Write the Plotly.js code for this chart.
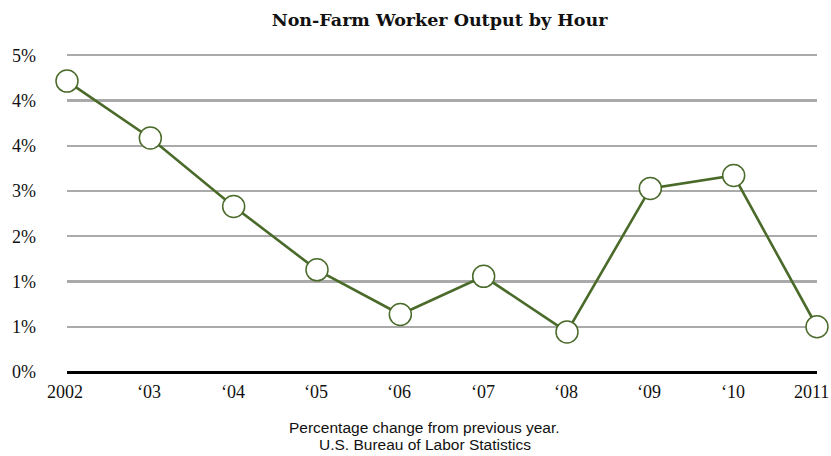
<!DOCTYPE html>
<html>
<head>
<meta charset="utf-8">
<script src="https://cdn.plot.ly/plotly-3.0.1.min.js"></script>
<style>html,body{margin:0;padding:0;background:#fff;}#chart{width:831px;height:456px;}</style>
</head>
<body>
<div id="chart"></div>
<script>
const years = [2002, 2003, 2004, 2005, 2006, 2007, 2008, 2009, 2010, 2011];
const yearLabels = ["2002", "\u201803", "\u201804", "\u201805", "\u201806", "\u201807", "\u201808", "\u201809", "\u201810", "2011"];
const output = [4.50, 3.62, 2.56, 1.58, 0.89, 1.48, 0.62, 2.84, 3.04, 0.70];
const yTickVals = [0, 0.7, 1.4, 2.1, 2.8, 3.5, 4.2, 4.9];
const yTickText = ["0%", "1%", "1%", "2%", "3%", "4%", "4%", "5%"];
const titleText = "Non-Farm Worker Output by Hour";
const noteLines = ["Percentage change from previous year.", "U.S. Bureau of Labor Statistics"];

const serif = "Liberation Serif, serif";
const titleSerif = "DejaVu Serif, serif";
const sans = "Liberation Sans, Arial, sans-serif";
const green = "#4a6a2a";

const trace = {
  x: years,
  y: output,
  type: "scatter",
  mode: "lines+markers",
  line: {color: green, width: 2.6},
  marker: {size: 22, color: "#ffffff", line: {color: green, width: 1.5}},
  cliponaxis: false,
  hoverinfo: "skip"
};

const yearAnnotations = years.map((yr, i) => ({
  text: yearLabels[i],
  x: yr, xref: "x",
  y: 0, yref: "paper",
  xanchor: "center", yanchor: "middle",
  yshift: -20,
  xshift: i === years.length - 1 ? -6 : (i === 0 ? -2 : -1),
  showarrow: false,
  font: {family: serif, size: 18, color: "#111"}
}));

const noteAnnotations = noteLines.map((t, i) => ({
  text: t,
  xref: "paper", yref: "paper", x: 0.477, y: 0,
  xanchor: "center", yanchor: "middle",
  yshift: -55 - 17 * i,
  showarrow: false,
  font: {family: sans, size: 15.5, color: "#111"}
}));

const layout = {
  width: 831,
  height: 456,
  margin: {l: 67, r: 14, t: 52, b: 84},
  paper_bgcolor: "#ffffff",
  plot_bgcolor: "#ffffff",
  showlegend: false,
  title: {
    text: "<b>" + titleText + "</b>",
    font: {family: titleSerif, size: 17.5, color: "#111"},
    x: 0.529, xanchor: "center", y: 0.956, yanchor: "middle"
  },
  xaxis: {
    range: [2002, 2011],
    tickvals: years,
    showticklabels: false,
    showgrid: false,
    zeroline: false,
    showline: false,
    ticks: "",
    fixedrange: true
  },
  yaxis: {
    range: [0, 4.95],
    tickvals: yTickVals,
    ticktext: yTickText,
    showgrid: true,
    gridcolor: "#aaaaaa",
    gridwidth: 2.4,
    zeroline: true,
    zerolinecolor: "#000000",
    zerolinewidth: 3,
    showline: false,
    ticks: "",
    ticklabelstandoff: 30,
    tickfont: {family: serif, size: 18, color: "#111"},
    fixedrange: true
  },
  annotations: yearAnnotations.concat(noteAnnotations)
};

Plotly.newPlot("chart", [trace], layout, {staticPlot: true, displayModeBar: false});
</script>
</body>
</html>
